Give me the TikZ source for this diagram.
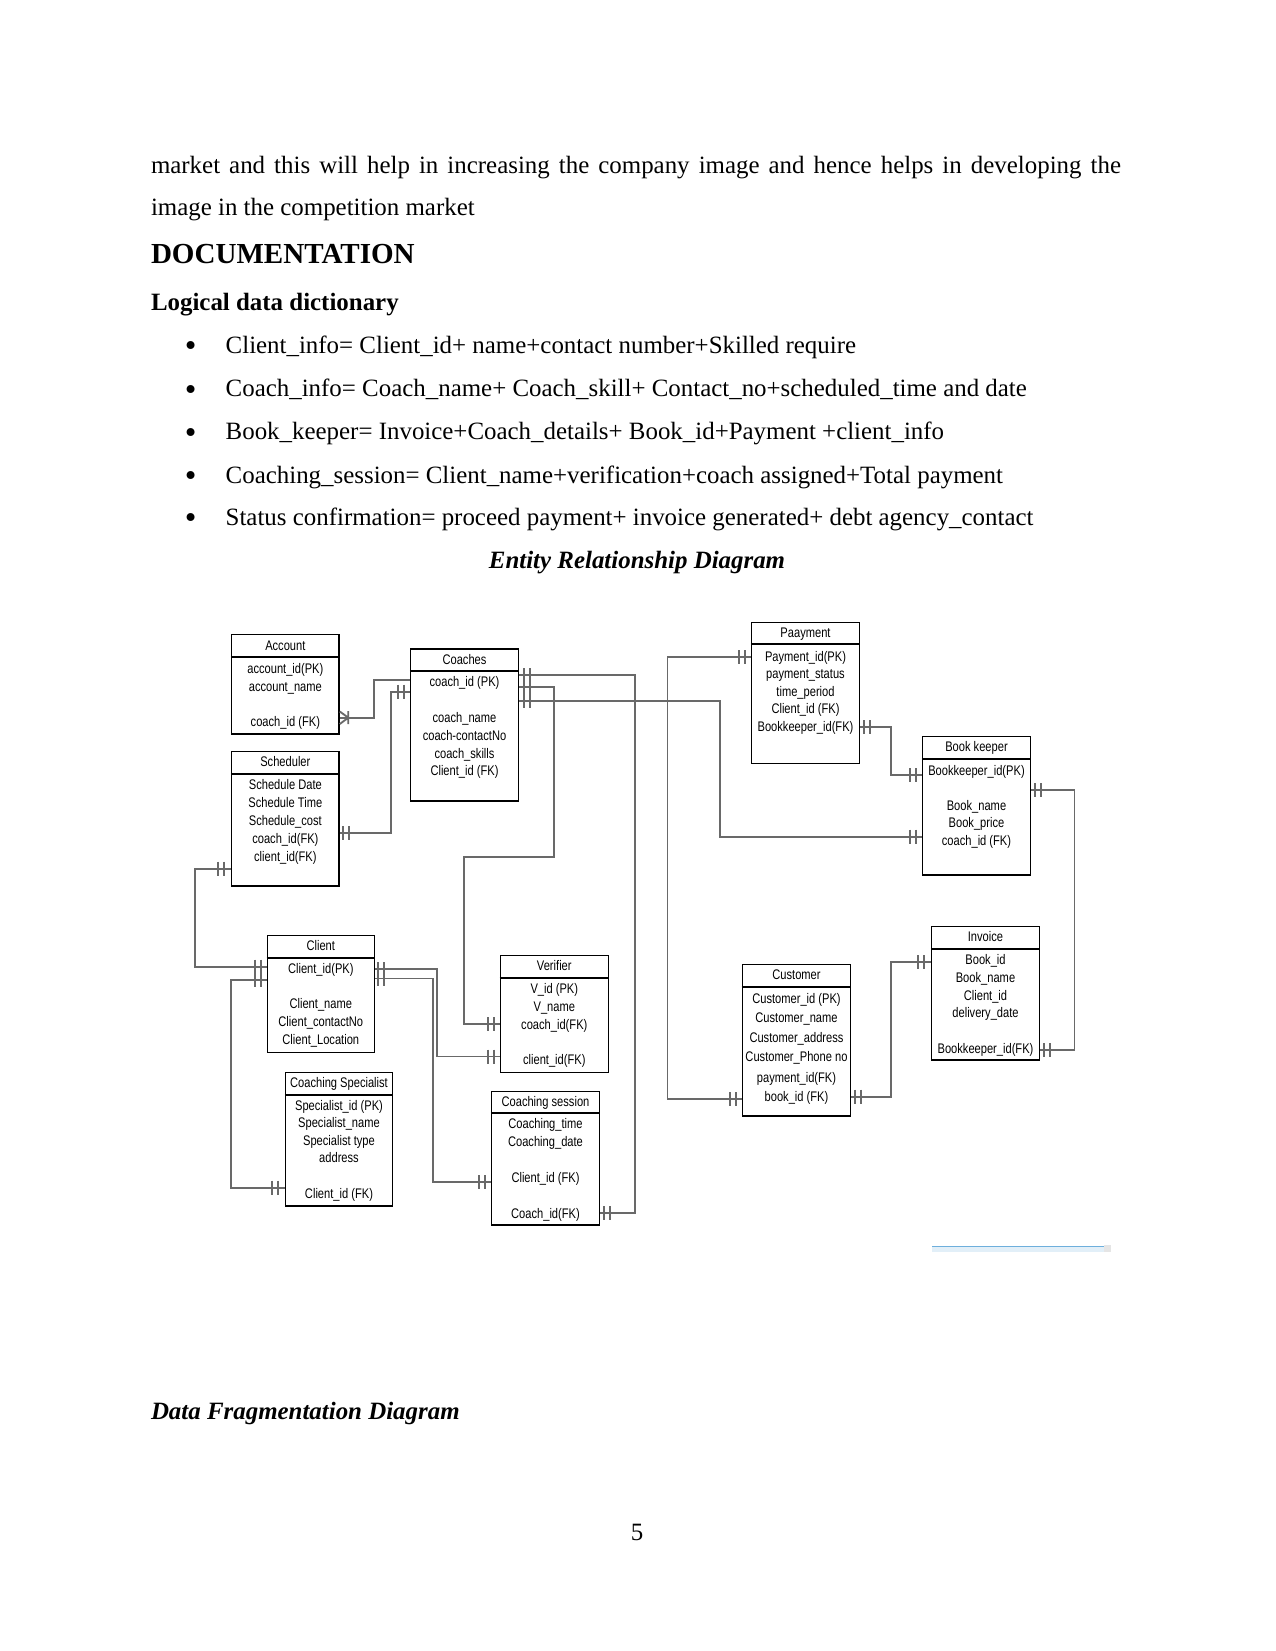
\documentclass[tikz,border=0pt]{standalone}
\usepackage{fontspec}
\setmainfont{Liberation Serif}
\newfontfamily\erfont[FakeStretch=0.8]{Liberation Sans}
\usetikzlibrary{fit}

\definecolor{linkgray}{RGB}{105,105,105}
\definecolor{stripblue}{RGB}{110,175,220}

\tikzset{
  ent/.style={draw=black, line width=0.75pt, inner sep=0pt},
  attr/.style={font=\erfont\fontsize{6.7}{8}\selectfont, inner sep=0pt, anchor=base, yshift=-2.2pt},
  headline/.style={line width=0.95pt},
  link/.style={draw=linkgray, line width=0.9pt},
  bars/.pic={\draw[link] (-3,-7) -- (-3,7) (3,-7) -- (3,7);},
  body/.style={font=\fontsize{12}{14}\selectfont, inner sep=0pt, anchor=base west},
}

\begin{document}
\begin{tikzpicture}[x=0.16933mm, y=-0.16933mm]
    \useasboundingbox (0,0) rectangle (1275,1651);

    % page text
    \node[body] (para1) at (150.6,173) {\makebox[467.3pt][s]{market and this will help in increasing the company image and hence helps in developing the}};
    \node[body] (para2) at (150.6,215) {image in the competition market};
    \node[body, font=\fontsize{14}{16}\selectfont\bfseries] (doc) at (150.6,263.5) {DOCUMENTATION};
    \node[body, font=\fontsize{12}{14}\selectfont\bfseries] (ldd) at (150.6,310) {Logical data dictionary};
    \foreach \t/\y [count=\i] in {Client\_info= Client\_id+ name+contact number+Skilled require/353,
        Coach\_info= Coach\_name+ Coach\_skill+ Contact\_no+scheduled\_time and date/396.5,
        Book\_keeper= Invoice+Coach\_details+ Book\_id+Payment +client\_info/439.7,
        Coaching\_session= Client\_name+verification+coach assigned+Total payment/483,
        Status confirmation= proceed payment+ invoice generated+ debt agency\_contact/525}{
        \node[body, anchor=base, font=\fontsize{16}{16}\selectfont] (bul-\i) at (190.6,\y+3.5) {\textbullet};
        \node[body] (item-\i) at (225.3,\y) {\t};
    }
    \node[body, anchor=base, font=\fontsize{12}{14}\selectfont\bfseries\itshape] (erd) at (637,568) {Entity Relationship Diagram};
    \node[body, font=\fontsize{12}{14}\selectfont\bfseries\itshape] (dfd) at (150.6,1419) {Data Fragmentation Diagram};
    \node[body, anchor=base] (pgno) at (637,1540) {5};

    % entities
    \node[ent, fit={(231.7,634.3) (339,734)}] (account) {};
    \node[attr] (account-t) at (account.north |- 0,645.7) {Account};
    \draw[headline] (account.west |- 0,657.3) -- (account.east |- 0,657.3);
    \foreach \t/\y [count=\i] in {account\_id(PK)/669.3, account\_name/686.7, coach\_id (FK)/722}
        \node[attr] (account-\i) at (account.north |- 0,\y) {\t};

    \node[ent, fit={(231.7,751.7) (339,886)}] (scheduler) {};
    \node[attr] (scheduler-t) at (scheduler.north |- 0,762.3) {Scheduler};
    \draw[headline] (scheduler.west |- 0,774) -- (scheduler.east |- 0,774);
    \foreach \t/\y [count=\i] in {Schedule Date/785, Schedule Time/802.7, Schedule\_cost/820.7, coach\_id(FK)/839, client\_id(FK)/856.7}
        \node[attr] (scheduler-\i) at (scheduler.north |- 0,\y) {\t};

    \node[ent, fit={(410.7,649) (518.3,801)}] (coaches) {};
    \node[attr] (coaches-t) at (coaches.north |- 0,660) {Coaches};
    \draw[headline] (coaches.west |- 0,671.3) -- (coaches.east |- 0,671.3);
    \foreach \t/\y [count=\i] in {coach\_id (PK)/682.3, coach\_name/718.3, coach-contactNo/735.7, coach\_skills/753.7, Client\_id (FK)/771.3}
        \node[attr] (coaches-\i) at (coaches.north |- 0,\y) {\t};

    \node[ent, fit={(751.7,622.3) (859.3,763.3)}] (payment) {};
    \node[attr] (payment-t) at (payment.north |- 0,633.3) {Paayment};
    \draw[headline] (payment.west |- 0,644.3) -- (payment.east |- 0,644.3);
    \foreach \t/\y [count=\i] in {Payment\_id(PK)/656.7, payment\_status/674, time\_period/691.7, Client\_id (FK)/709.3, Bookkeeper\_id(FK)/727.3}
        \node[attr] (payment-\i) at (payment.north |- 0,\y) {\t};

    \node[ent, fit={(922.7,736.3) (1030.3,875)}] (bookkeeper) {};
    \node[attr] (bookkeeper-t) at (bookkeeper.north |- 0,746.7) {Book keeper};
    \draw[headline] (bookkeeper.west |- 0,759.3) -- (bookkeeper.east |- 0,759.3);
    \foreach \t/\y [count=\i] in {Bookkeeper\_id(PK)/770.7, Book\_name/806, Book\_price/823.3, coach\_id (FK)/840.7}
        \node[attr] (bookkeeper-\i) at (bookkeeper.north |- 0,\y) {\t};

    \node[ent, fit={(267.3,935.7) (374.3,1052.3)}] (client) {};
    \node[attr] (client-t) at (client.north |- 0,946) {Client};
    \draw[headline] (client.west |- 0,958.3) -- (client.east |- 0,958.3);
    \foreach \t/\y [count=\i] in {Client\_id(PK)/969, Client\_name/1004, Client\_contactNo/1022.3, Client\_Location/1040}
        \node[attr] (client-\i) at (client.north |- 0,\y) {\t};

    \node[ent, fit={(285.7,1072.7) (392.3,1206)}] (specialist) {};
    \node[attr] (specialist-t) at (specialist.north |- 0,1082.7) {Coaching Specialist};
    \draw[headline] (specialist.west |- 0,1095) -- (specialist.east |- 0,1095);
    \foreach \t/\y [count=\i] in {Specialist\_id (PK)/1106, Specialist\_name/1123.3, Specialist type/1141, address/1158.3, Client\_id (FK)/1194.3}
        \node[attr] (specialist-\i) at (specialist.north |- 0,\y) {\t};

    \node[ent, fit={(500.3,955.7) (608.3,1072.3)}] (verifier) {};
    \node[attr] (verifier-t) at (verifier.north |- 0,965.7) {Verifier};
    \draw[headline] (verifier.west |- 0,978.3) -- (verifier.east |- 0,978.3);
    \foreach \t/\y [count=\i] in {V\_id (PK)/989.3, V\_name/1007, coach\_id(FK)/1025, client\_id(FK)/1060}
        \node[attr] (verifier-\i) at (verifier.north |- 0,\y) {\t};

    \node[ent, fit={(491.7,1091.7) (599.3,1225)}] (session) {};
    \node[attr] (session-t) at (session.north |- 0,1101.7) {Coaching session};
    \draw[headline] (session.west |- 0,1113.3) -- (session.east |- 0,1113.3);
    \foreach \t/\y [count=\i] in {Coaching\_time/1124.3, Coaching\_date/1142.3, Client\_id (FK)/1177.7, Coach\_id(FK)/1214}
        \node[attr] (session-\i) at (session.north |- 0,\y) {\t};

    \node[ent, fit={(742.3,964.3) (850.7,1116)}] (customer) {};
    \node[attr] (customer-t) at (customer.north |- 0,975) {Customer};
    \draw[headline] (customer.west |- 0,987.3) -- (customer.east |- 0,987.3);
    \foreach \t/\y [count=\i] in {Customer\_id (PK)/999.3, Customer\_name/1018.3, Customer\_address/1037.7, Customer\_Phone no/1057.3, payment\_id(FK)/1078.3, book\_id (FK)/1097.3}
        \node[attr] (customer-\i) at (customer.north |- 0,\y) {\t};

    \node[ent, fit={(931.7,926.7) (1039.3,1060)}] (invoice) {};
    \node[attr] (invoice-t) at (invoice.north |- 0,936.7) {Invoice};
    \draw[headline] (invoice.west |- 0,949) -- (invoice.east |- 0,949);
    \foreach \t/\y [count=\i] in {Book\_id/960, Book\_name/977.7, Client\_id/995.7, delivery\_date/1013.3, Bookkeeper\_id(FK)/1049}
        \node[attr] (invoice-\i) at (invoice.north |- 0,\y) {\t};

    % relationships
    \draw[link] (account.east |- 0,717.7) -- (374.3,717.7) |- (coaches.west |- 0,680);
    \path (account.east |- 0,717.7) ++(8.5,0) coordinate (accfoot);
    \draw[link] (account.east |- 0,711.5) -- (accfoot) -- (account.east |- 0,724) (accfoot) ++(0,-6.5) -- ++(0,13);

    \draw[link] (scheduler.east |- 0,833.3) -| (390.7,691.7) -- (coaches.west |- 0,691.7);
    \path (scheduler.east |- 0,833.3) ++(6,0) pic {bars};
    \path (coaches.west |- 0,691.7) ++(-8.5,0) pic {bars};

    \draw[link] (scheduler.west |- 0,868.7) -| (195,966.7) -- (client.west |- 0,966.7);
    \path (scheduler.west |- 0,868.7) ++(-9.5,0) pic {bars};
    \path (client.west |- 0,966.7) ++(-8.5,0) pic {bars};

    \draw[link] (client.west |- 0,980) -| (231,1187.7) -- (specialist.west |- 0,1187.7);
    \path (client.west |- 0,980) ++(-8.5,0) pic {bars};
    \path (specialist.west |- 0,1187.7) ++(-9.5,0) pic {bars};

    \draw[link] (client.east |- 0,969) -| (436.7,1056.5) -- (verifier.west |- 0,1056.5);
    \path (client.east |- 0,969) ++(6,0) pic {bars};
    \path (verifier.west |- 0,1056.5) ++(-8.5,0) pic {bars};

    \draw[link] (client.east |- 0,978.5) -| (433,1182) -- (session.west |- 0,1182);
    \path (client.east |- 0,978.5) ++(6,0) pic {bars};
    \path (session.west |- 0,1182) ++(-8.5,0) pic {bars};

    \draw[link] (coaches.east |- 0,687.3) -| (554,856.7) -| (464.3,1024.3) -- (verifier.west |- 0,1024.3);
    \path (coaches.east |- 0,687.3) ++(8,0) pic {bars};
    \path (verifier.west |- 0,1024.3) ++(-8.5,0) pic {bars};

    \draw[link] (coaches.east |- 0,675) -| (635,1213.3) -- (session.east |- 0,1213.3);
    \path (coaches.east |- 0,675) ++(8,0) pic {bars};
    \path (session.east |- 0,1213.3) ++(7,0) pic {bars};

    \draw[link] (coaches.east |- 0,701) -| (720,836.7) -- (bookkeeper.west |- 0,836.7);
    \path (coaches.east |- 0,701) ++(8,0) pic {bars};
    \path (bookkeeper.west |- 0,836.7) ++(-8.5,0) pic {bars};

    \draw[link] (payment.west |- 0,657.3) -| (667.5,1099.3) -- (customer.west |- 0,1099.3);
    \path (payment.west |- 0,657.3) ++(-8.5,0) pic {bars};
    \path (customer.west |- 0,1099.3) ++(-8.5,0) pic {bars};

    \draw[link] (payment.east |- 0,727.3) -| (890.7,775) -- (bookkeeper.west |- 0,775);
    \path (payment.east |- 0,727.3) ++(7,0) pic {bars};
    \path (bookkeeper.west |- 0,775) ++(-8.5,0) pic {bars};

    \draw[link] (bookkeeper.east |- 0,790) -| (1074.5,1050) -- (invoice.east |- 0,1050);
    \path (bookkeeper.east |- 0,790) ++(7,0) pic {bars};
    \path (invoice.east |- 0,1050) ++(7,0) pic {bars};

    \draw[link] (invoice.west |- 0,962.3) -| (891,1096.7) -- (customer.east |- 0,1096.7);
    \path (invoice.west |- 0,962.3) ++(-9.5,0) pic {bars};
    \path (customer.east |- 0,1096.7) ++(6.5,0) pic {bars};

    % strip under the diagram
    \fill[stripblue!20] (932.3,1246) rectangle (1104,1252);
    \draw[stripblue, line width=0.8pt] (932.3,1246.5) -- (1104,1246.5);
    \fill[gray!20] (1104,1245) rectangle (1110.7,1252);
\end{tikzpicture}
\end{document}
